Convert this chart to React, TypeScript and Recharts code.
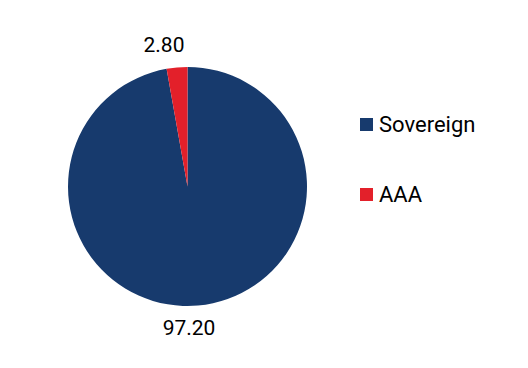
import React from "react";
import { PieChart, Pie, Cell, Legend } from "recharts";

const categories = ["Sovereign", "AAA"];
const values = [97.2, 2.8];
const valueLabels = ["97.20", "2.80"];
const colors = ["#173a6d", "#e3202a"];

const data = categories.map((name, i) => ({ name, value: values[i], label: valueLabels[i] }));

const RAD = Math.PI / 180;

const renderLabel = (props: any) => {
  const { cx, cy, midAngle, outerRadius, index } = props;
  const r = outerRadius + 23;
  const x = cx + r * Math.cos(-midAngle * RAD) - 11;
  const y = cy + r * Math.sin(-midAngle * RAD);
  return (
    <text
      x={x}
      y={y}
      textAnchor="middle"
      dominantBaseline="central"
      fill="#000"
      fontSize={21}
      fontFamily="Roboto"
    >
      {data[index].label}
    </text>
  );
};

const renderLegend = () => {
  return (
    <div style={{ fontFamily: "Roboto", fontSize: 22, color: "#000" }}>
      {data.map((d, i) => (
        <div
          key={d.name}
          style={{ display: "flex", alignItems: "center", height: 26, marginBottom: i === 0 ? 44 : 0 }}
        >
          <div style={{ width: 13, height: 13, background: colors[i], marginRight: 6 }} />
          <span>{d.name}</span>
        </div>
      ))}
    </div>
  );
};

export default function App() {
  return (
    <div style={{ position: "absolute", left: 0, top: 0, background: "#fff" }}>
      <PieChart width={528} height={368} margin={{ top: 0, right: 0, bottom: 0, left: 0 }}>
        <Pie
          data={data}
          dataKey="value"
          nameKey="name"
          cx={187.5}
          cy={186.5}
          outerRadius={119.5}
          startAngle={90}
          endAngle={-270}
          stroke="none"
          label={renderLabel}
          labelLine={false}
          isAnimationActive={false}
        >
          {data.map((d, i) => (
            <Cell key={d.name} fill={colors[i]} />
          ))}
        </Pie>
        <Legend
          content={renderLegend}
          wrapperStyle={{ position: "absolute", left: 360, top: 111, width: 160 }}
        />
      </PieChart>
    </div>
  );
}
